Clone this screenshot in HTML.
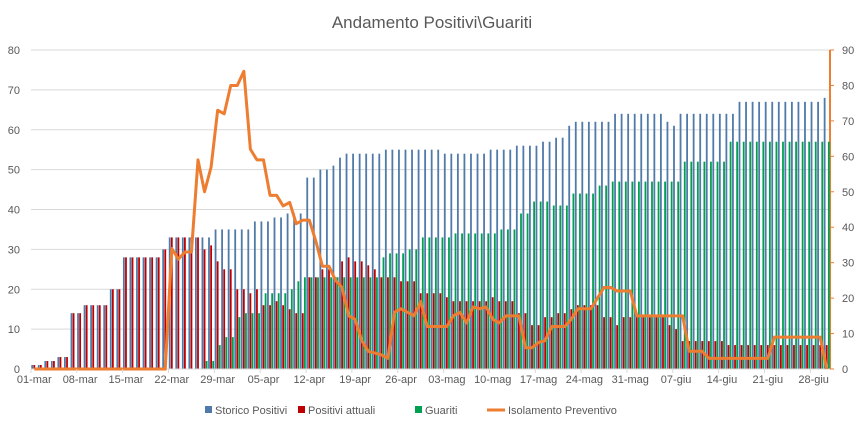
<!DOCTYPE html>
<html><head><meta charset="utf-8"><style>
body{margin:0;background:#fff;font-family:"Liberation Sans",sans-serif}
svg{display:block}
</style></head><body>
<svg id="c" width="864" height="432"></svg>
<script>
const categories=["01-mar","08-mar","15-mar","22-mar","29-mar","05-apr","12-apr","19-apr","26-apr","03-mag","10-mag","17-mag","24-mag","31-mag","07-giu","14-giu","21-giu","28-giu"];
const leftTicks=[0,10,20,30,40,50,60,70,80];
const rightTicks=[0,10,20,30,40,50,60,70,80,90];
const storico=[1,1,2,2,3,3,14,14,16,16,16,16,20,20,28,28,28,28,28,28,30,33,33,33,33,33,33,33,35,35,35,35,35,35,37,37,37,38,38,39,39,39,48,48,50,50,51,53,54,54,54,54,54,54,55,55,55,55,55,55,55,55,55,54,54,54,54,54,54,54,55,55,55,55,56,56,56,56,57,57,58,58,61,62,62,62,62,62,62,64,64,64,64,64,64,64,64,62,61,64,64,64,64,64,64,64,64,64,67,67,67,67,67,67,67,67,67,67,67,67,67,68];
const attuali=[1,1,2,2,3,3,14,14,16,16,16,16,20,20,28,28,28,28,28,28,30,33,33,33,33,33,30,31,27,25,25,20,20,19,20,16,16,17,16,15,14,14,23,23,25,25,23,27,28,27,27,26,25,23,23,23,22,22,22,19,19,19,19,18,17,17,17,17,17,17,18,17,17,17,14,14,11,11,13,13,14,14,15,16,16,16,16,13,13,11,13,13,13,13,13,13,13,11,10,7,7,7,7,7,7,7,6,6,6,6,6,6,6,6,6,6,6,6,6,6,6,6];
const guariti=[0,0,0,0,0,0,0,0,0,0,0,0,0,0,0,0,0,0,0,0,0,0,0,0,0,0,2,2,6,8,8,13,14,14,14,19,19,19,19,20,22,23,23,23,23,23,23,23,23,23,23,23,23,28,29,29,29,30,30,33,33,33,33,33,34,34,34,34,34,34,34,35,35,35,39,39,42,42,42,41,41,41,44,44,44,44,46,46,47,47,47,47,47,47,47,47,47,47,47,52,52,52,52,52,52,52,57,57,57,57,57,57,57,57,57,57,57,57,57,57,57,57];
const isolamento=[0,0,0,0,0,0,0,0,0,0,0,0,0,0,0,0,0,0,0,0,0,34,31,33,33,59,50,57,73,72,80,80,84,62,59,59,49,49,46,47,41,42,42,36,29,29,25,23,15,14,8,5,4.5,4,3,16,17,16,15,19,12,12,12,12,15,16,13,17.5,17,17.5,14,13,15,15,15,6,6,7.5,8,12,12,12,14,17,17,17,20,23,23,22,22,22,15,15,15,15,15,15,15,15,5,5,5,3,3,3,3,3,3,3,3,3,3,9,9,9,9,9,9,9,9,0];
const NS="http://www.w3.org/2000/svg";
const svg=document.getElementById('c');
const L=31,R=830,T=50,B=369,N=122,w=(R-L)/N;
const yL=v=>B-v*(B-T)/80, yR=v=>B-v*(B-T)/90, xC=d=>L+(d+0.5)*w;
function mk(t,a,p){const e=document.createElementNS(NS,t);for(const k in a)e.setAttribute(k,a[k]);(p||svg).appendChild(e);return e;}
const title=mk('text',{x:432,y:28,'text-anchor':'middle','font-size':17,fill:'#595959'});title.textContent='Andamento Positivi\\Guariti';

leftTicks.forEach(v=>{const g=mk('line',{x1:L,x2:R,y1:yL(v),y2:yL(v),stroke:'#d9d9d9','stroke-width':1});

const t=mk('text',{x:20,y:yL(v)+4,'text-anchor':'end','font-size':11,fill:'#595959'});t.textContent=v;
});
rightTicks.forEach(v=>{const t=mk('text',{x:842,y:yR(v)+4,'font-size':11,fill:'#595959'});t.textContent=v;

mk('line',{x1:R,x2:R+4,y1:yR(v),y2:yR(v),stroke:'#ED7D31'});});
const ax=mk('line',{x1:R,x2:R,y1:T,y2:B,stroke:'#ED7D31','stroke-width':2});

const series=[[storico,'#4f7aa9',-2.1],[attuali,'#c00000',0],[guariti,'#00a050',2.1]];
series.forEach(([arr,col,off],si)=>{arr.forEach((v,d)=>{if(v<=0)return;const r=mk('rect',{x:xC(d)+off-0.9,y:yL(v),width:1.8,height:B-yL(v),fill:col});
});});
const bl=mk('line',{x1:L,x2:R,y1:B,y2:B,stroke:'#d9d9d9'});

const pl=mk('polyline',{points:isolamento.map((v,d)=>xC(d)+','+yR(v)).join(' '),fill:'none',stroke:'#ED7D31','stroke-width':3,'stroke-linejoin':'round'});

categories.forEach((c,i)=>{const d=i*7;const t=mk('text',{x:xC(d),y:383,'text-anchor':'middle','font-size':11,fill:'#595959'});t.textContent=c;

mk('line',{x1:L+d*w,x2:L+d*w,y1:B,y2:B+4,stroke:'#d9d9d9'});});
const leg=[['Storico Positivi','#4f7aa9',205,'r'],['Positivi attuali','#c00000',298,'r'],['Guariti','#00a050',415,'r'],['Isolamento Preventivo','#ED7D31',495,'l']];
leg.forEach(([n,col,x,k])=>{const g=mk('g',{});
if(k==='r')mk('rect',{x:x,y:406,width:7,height:7,fill:col},g);else mk('line',{x1:x-8,x2:x+10,y1:410,y2:410,stroke:col,'stroke-width':3},g);
const t=mk('text',{x:x+(k==='r'?10:13),y:414,'font-size':11,fill:'#595959'},g);t.textContent=n;});
</script>
</body></html>
